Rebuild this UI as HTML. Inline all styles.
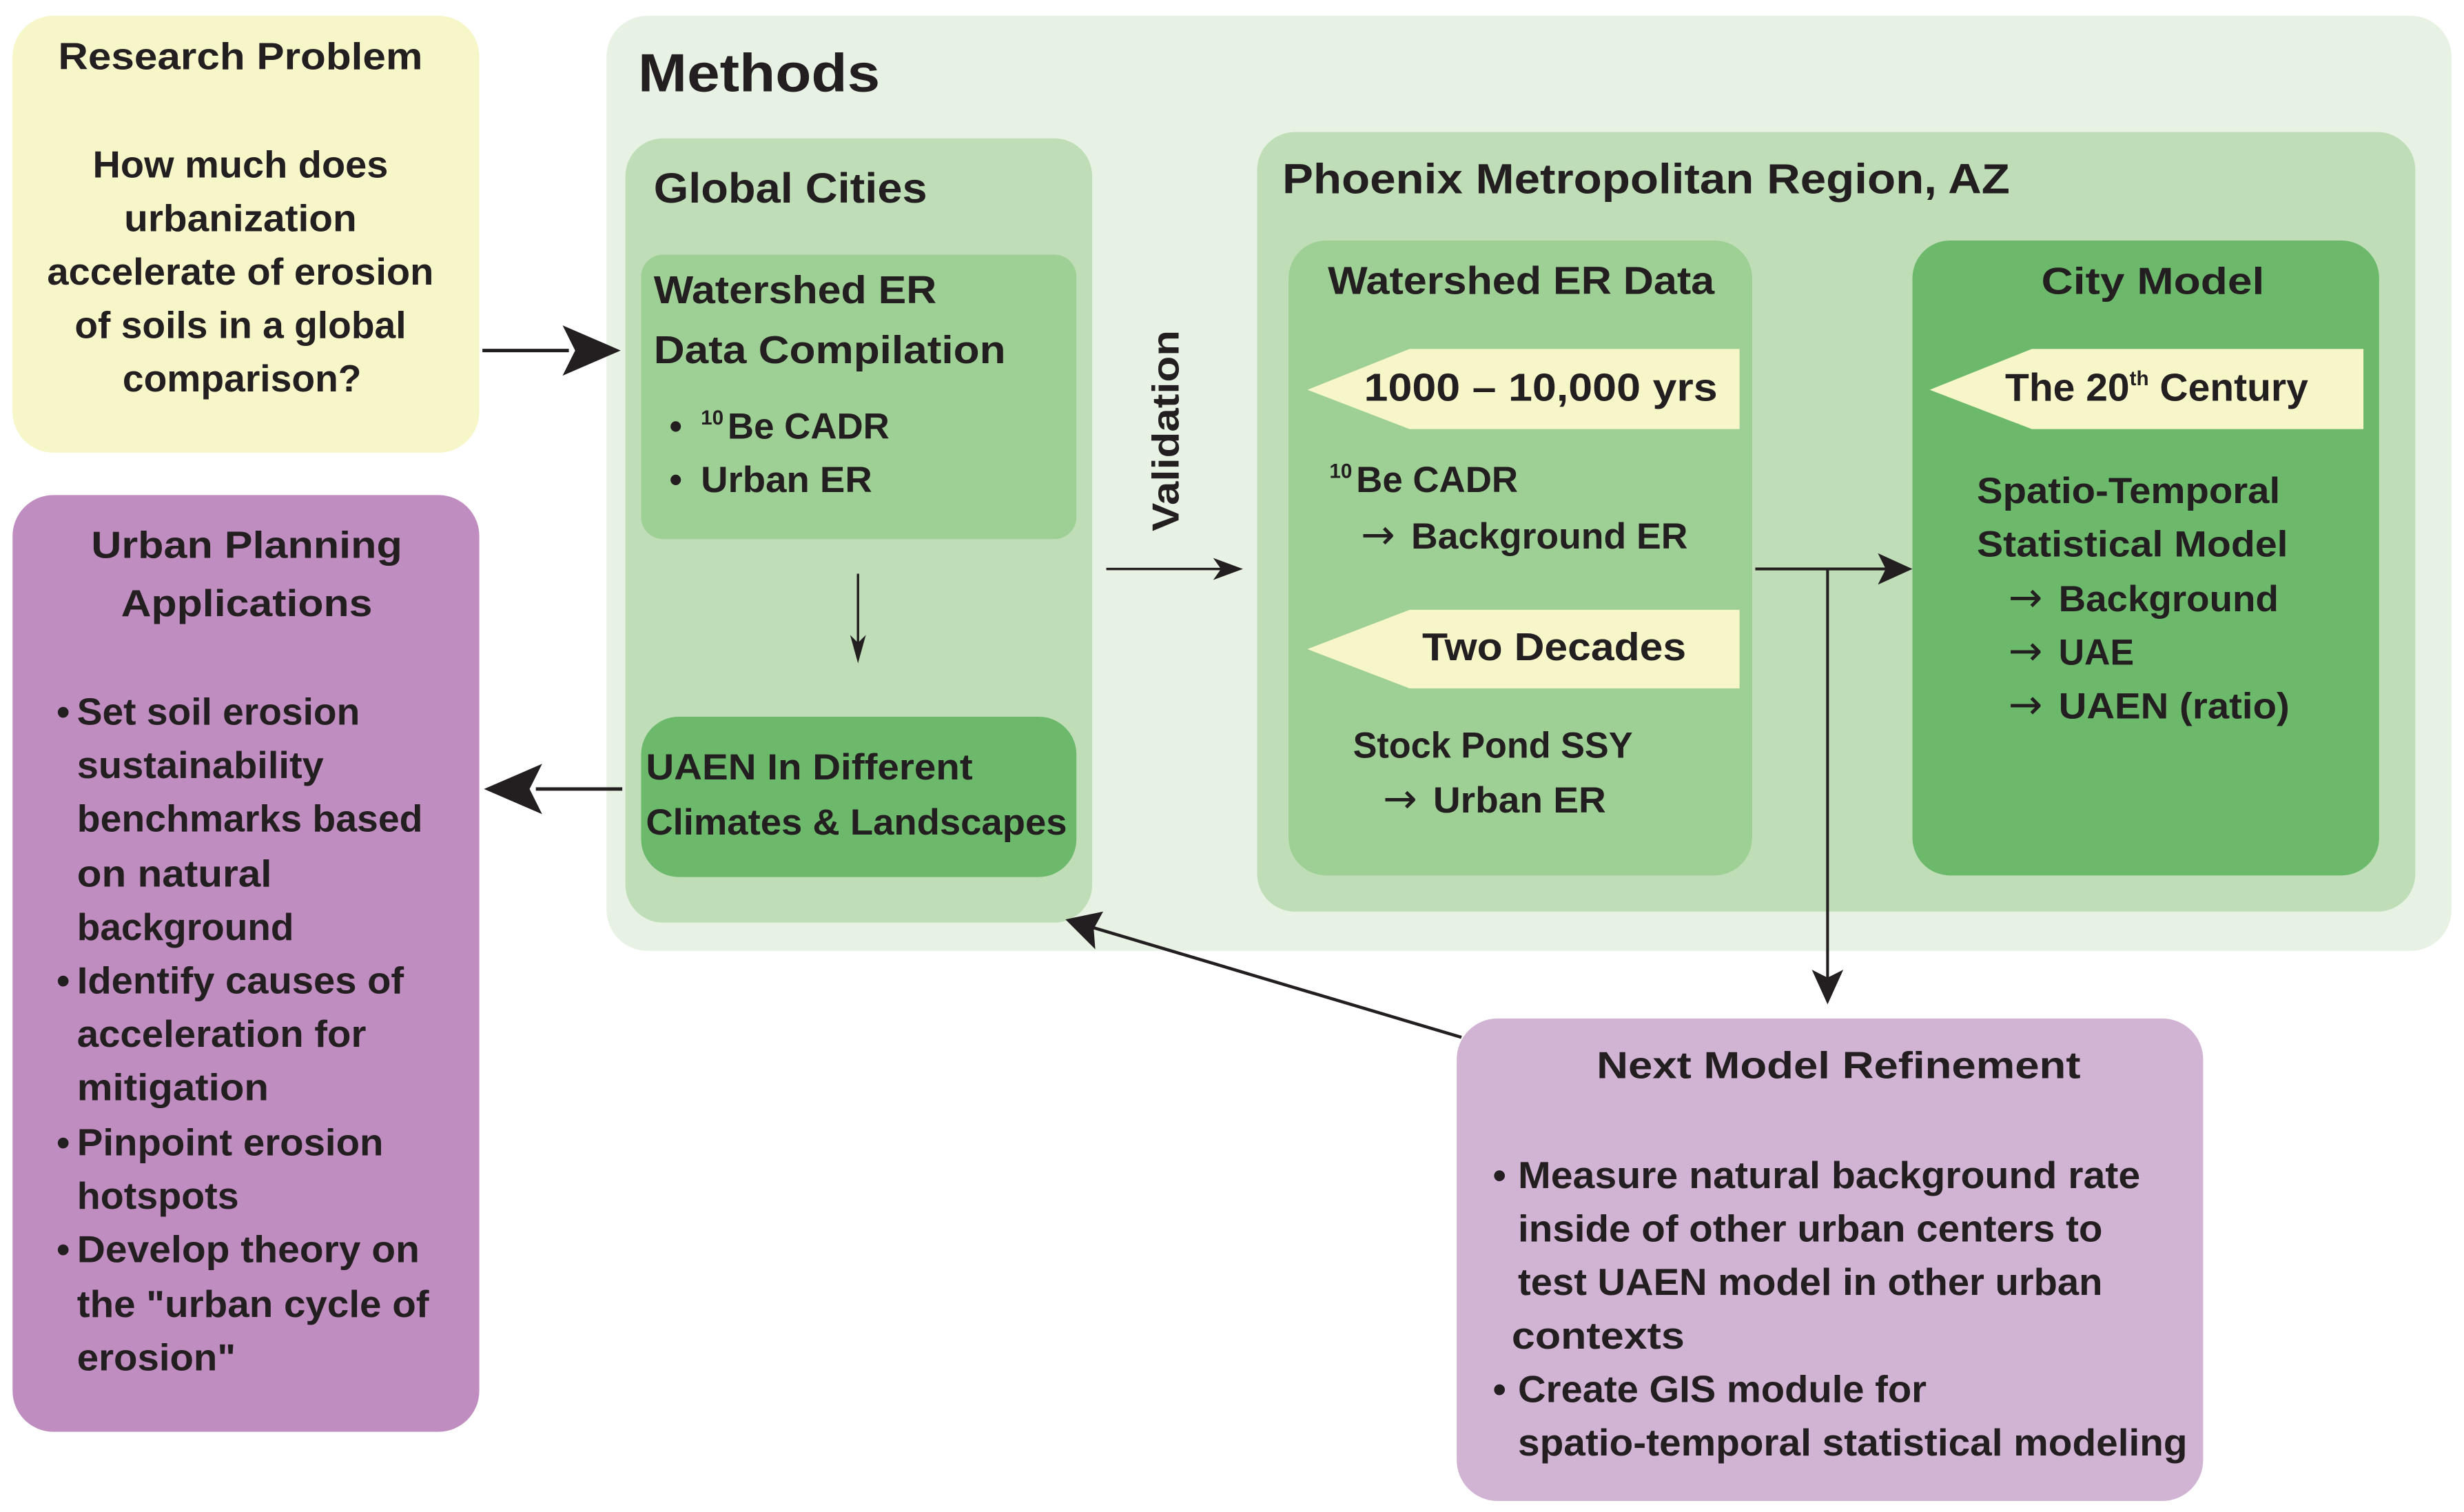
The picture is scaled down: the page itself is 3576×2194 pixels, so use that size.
<!DOCTYPE html>
<html><head><meta charset="utf-8"><style>
html,body{margin:0;padding:0;background:#fff;width:3576px;height:2194px;overflow:hidden}
svg{display:block}
text{font-family:"Liberation Sans",sans-serif;font-weight:bold;fill:#231f20}
.ar{font-family:"DejaVu Sans",sans-serif;font-weight:normal;font-size:26px}
</style></head><body>
<svg width="3576" height="2194" viewBox="0 0 1568 962" xmlns="http://www.w3.org/2000/svg">
<rect x="8" y="10" width="297" height="278" rx="26" fill="#f7f6c9"/>
<rect x="8" y="315" width="297" height="596" rx="26" fill="#c08dc0"/>
<rect x="386" y="10" width="1174" height="595" rx="26" fill="#e7f2e4"/>
<rect x="398" y="88" width="297" height="499" rx="24" fill="#bfdeb8"/>
<rect x="408" y="162" width="277" height="181" rx="14" fill="#9ecf94"/>
<rect x="408" y="456" width="277" height="102" rx="24" fill="#6cb96c"/>
<rect x="800" y="84" width="737" height="496" rx="24" fill="#bfdeb8"/>
<rect x="820" y="153" width="295" height="404" rx="24" fill="#9ecf94"/>
<rect x="1217" y="153" width="297" height="404" rx="24" fill="#6cb96c"/>
<rect x="927" y="648" width="475" height="307" rx="26" fill="#d1b3d4"/>
<polygon points="832,248 897,222 1107,222 1107,273 897,273" fill="#f7f6c9"/>
<polygon points="832,413 897,388 1107,388 1107,438 897,438" fill="#f7f6c9"/>
<polygon points="1228,248 1293,222 1504,222 1504,273 1293,273" fill="#f7f6c9"/>

<line x1="307" y1="223" x2="362" y2="223" stroke="#231f20" stroke-width="2.2"/>
<path d="M395,223 L358,207 L366,223 L358,239 Z" fill="#231f20"/>
<line x1="396" y1="502" x2="341" y2="502" stroke="#231f20" stroke-width="2.2"/>
<path d="M308,502 L345,486 L337,502 L345,518 Z" fill="#231f20"/>
<line x1="546" y1="365" x2="546" y2="412" stroke="#231f20" stroke-width="1.5"/>
<path d="M546,422 L541,404 L546,409 L551,404 Z" fill="#231f20"/>
<line x1="704" y1="362" x2="780" y2="362" stroke="#231f20" stroke-width="1.5"/>
<path d="M791,362 L772,355 L777,362 L772,369 Z" fill="#231f20"/>
<line x1="1117" y1="362" x2="1200" y2="362" stroke="#231f20" stroke-width="1.8"/>
<path d="M1217,362 L1195,352 L1200,362 L1195,372 Z" fill="#231f20"/>
<line x1="1163" y1="362" x2="1163" y2="622" stroke="#231f20" stroke-width="1.8"/>
<path d="M1163,639 L1153,617 L1163,622 L1173,617 Z" fill="#231f20"/>
<line x1="930" y1="660" x2="695" y2="590" stroke="#231f20" stroke-width="2"/>
<path d="M678,585 L702,580 L696,591 L697,604 Z" fill="#231f20"/>

<g font-size="24" text-anchor="middle">
<text x="153" y="44" textLength="232" lengthAdjust="spacingAndGlyphs">Research Problem</text>
<text x="153" y="113" textLength="188" lengthAdjust="spacingAndGlyphs">How much does</text>
<text x="153" y="147" textLength="148" lengthAdjust="spacingAndGlyphs">urbanization</text>
<text x="153" y="181" textLength="246" lengthAdjust="spacingAndGlyphs">accelerate of erosion</text>
<text x="153" y="215" textLength="211" lengthAdjust="spacingAndGlyphs">of soils in a global</text>
<text x="154" y="249" textLength="152" lengthAdjust="spacingAndGlyphs">comparison?</text>
<text x="157" y="355" textLength="198" lengthAdjust="spacingAndGlyphs">Urban Planning</text>
<text x="157" y="392" textLength="160" lengthAdjust="spacingAndGlyphs">Applications</text>
<text x="1370" y="187" textLength="142" lengthAdjust="spacingAndGlyphs">City Model</text>
<text x="1170" y="686" textLength="308" lengthAdjust="spacingAndGlyphs">Next Model Refinement</text>
</g>
<g font-size="24">
<text x="36" y="461">•</text>
<text x="49" y="461" textLength="180" lengthAdjust="spacingAndGlyphs">Set soil erosion</text>
<text x="49" y="495" textLength="157" lengthAdjust="spacingAndGlyphs">sustainability</text>
<text x="49" y="529" textLength="220" lengthAdjust="spacingAndGlyphs">benchmarks based</text>
<text x="49" y="564" textLength="124" lengthAdjust="spacingAndGlyphs">on natural</text>
<text x="49" y="598" textLength="138" lengthAdjust="spacingAndGlyphs">background</text>
<text x="36" y="632">•</text>
<text x="49" y="632" textLength="208" lengthAdjust="spacingAndGlyphs">Identify causes of</text>
<text x="49" y="666" textLength="184" lengthAdjust="spacingAndGlyphs">acceleration for</text>
<text x="49" y="700" textLength="122" lengthAdjust="spacingAndGlyphs">mitigation</text>
<text x="36" y="735">•</text>
<text x="49" y="735" textLength="195" lengthAdjust="spacingAndGlyphs">Pinpoint erosion</text>
<text x="49" y="769" textLength="103" lengthAdjust="spacingAndGlyphs">hotspots</text>
<text x="36" y="803">•</text>
<text x="49" y="803" textLength="218" lengthAdjust="spacingAndGlyphs">Develop theory on</text>
<text x="49" y="838" textLength="224" lengthAdjust="spacingAndGlyphs">the "urban cycle of</text>
<text x="49" y="872" textLength="101" lengthAdjust="spacingAndGlyphs">erosion"</text>

<text x="950" y="756">•</text>
<text x="966" y="756" textLength="396" lengthAdjust="spacingAndGlyphs">Measure natural background rate</text>
<text x="966" y="790" textLength="372" lengthAdjust="spacingAndGlyphs">inside of other urban centers to</text>
<text x="966" y="824" textLength="372" lengthAdjust="spacingAndGlyphs">test UAEN model in other urban</text>
<text x="962" y="858" textLength="110" lengthAdjust="spacingAndGlyphs">contexts</text>
<text x="950" y="892">•</text>
<text x="966" y="892" textLength="260" lengthAdjust="spacingAndGlyphs">Create GIS module for</text>
<text x="966" y="926" textLength="426" lengthAdjust="spacingAndGlyphs">spatio-temporal statistical modeling</text>
</g>

<text x="406" y="58" font-size="34" textLength="154" lengthAdjust="spacingAndGlyphs">Methods</text>
<text x="416" y="129" font-size="27" textLength="174" lengthAdjust="spacingAndGlyphs">Global Cities</text>
<text x="816" y="123" font-size="27" textLength="463" lengthAdjust="spacingAndGlyphs">Phoenix Metropolitan Region, AZ</text>
<g font-size="25">
<text x="416" y="193" textLength="180" lengthAdjust="spacingAndGlyphs">Watershed ER</text>
<text x="416" y="231" textLength="224" lengthAdjust="spacingAndGlyphs">Data Compilation</text>
<text x="845" y="187" textLength="246" lengthAdjust="spacingAndGlyphs">Watershed ER Data</text>
</g>
<g font-size="23">
<text x="426" y="279">•</text>
<text x="446" y="270" font-size="13">10</text>
<text x="463" y="279" textLength="103" lengthAdjust="spacingAndGlyphs">Be CADR</text>
<text x="426" y="313">•</text>
<text x="446" y="313" textLength="109" lengthAdjust="spacingAndGlyphs">Urban ER</text>
<text x="411" y="496" textLength="208" lengthAdjust="spacingAndGlyphs">UAEN In Different</text>
<text x="411" y="531" textLength="268" lengthAdjust="spacingAndGlyphs">Climates &amp; Landscapes</text>
<text x="868" y="255" font-size="25" textLength="225" lengthAdjust="spacingAndGlyphs">1000 – 10,000 yrs</text>
<text x="846" y="304" font-size="13">10</text>
<text x="863" y="313" textLength="103" lengthAdjust="spacingAndGlyphs">Be CADR</text>
<text x="866" y="349" class="ar">→</text>
<text x="898" y="349" textLength="176" lengthAdjust="spacingAndGlyphs">Background ER</text>
<text x="905" y="420" font-size="25" textLength="168" lengthAdjust="spacingAndGlyphs">Two Decades</text>
<text x="861" y="482" textLength="178" lengthAdjust="spacingAndGlyphs">Stock Pond SSY</text>
<text x="880" y="517" class="ar">→</text>
<text x="912" y="517" textLength="110" lengthAdjust="spacingAndGlyphs">Urban ER</text>
<text x="1276" y="255" font-size="25">The 20<tspan font-size="13" dy="-10">th</tspan><tspan dy="10"> Century</tspan></text>
<text x="1258" y="320" textLength="193" lengthAdjust="spacingAndGlyphs">Spatio-Temporal</text>
<text x="1258" y="354" textLength="198" lengthAdjust="spacingAndGlyphs">Statistical Model</text>
<text x="1278" y="389" class="ar">→</text>
<text x="1310" y="389" textLength="140" lengthAdjust="spacingAndGlyphs">Background</text>
<text x="1278" y="423" class="ar">→</text>
<text x="1310" y="423" textLength="48" lengthAdjust="spacingAndGlyphs">UAE</text>
<text x="1278" y="457" class="ar">→</text>
<text x="1310" y="457" textLength="147" lengthAdjust="spacingAndGlyphs">UAEN (ratio)</text>
<text x="0" y="0" font-size="24" text-anchor="middle" transform="translate(750,274) rotate(-90)" textLength="128" lengthAdjust="spacingAndGlyphs">Validation</text>
</g>
</svg>
</body></html>
